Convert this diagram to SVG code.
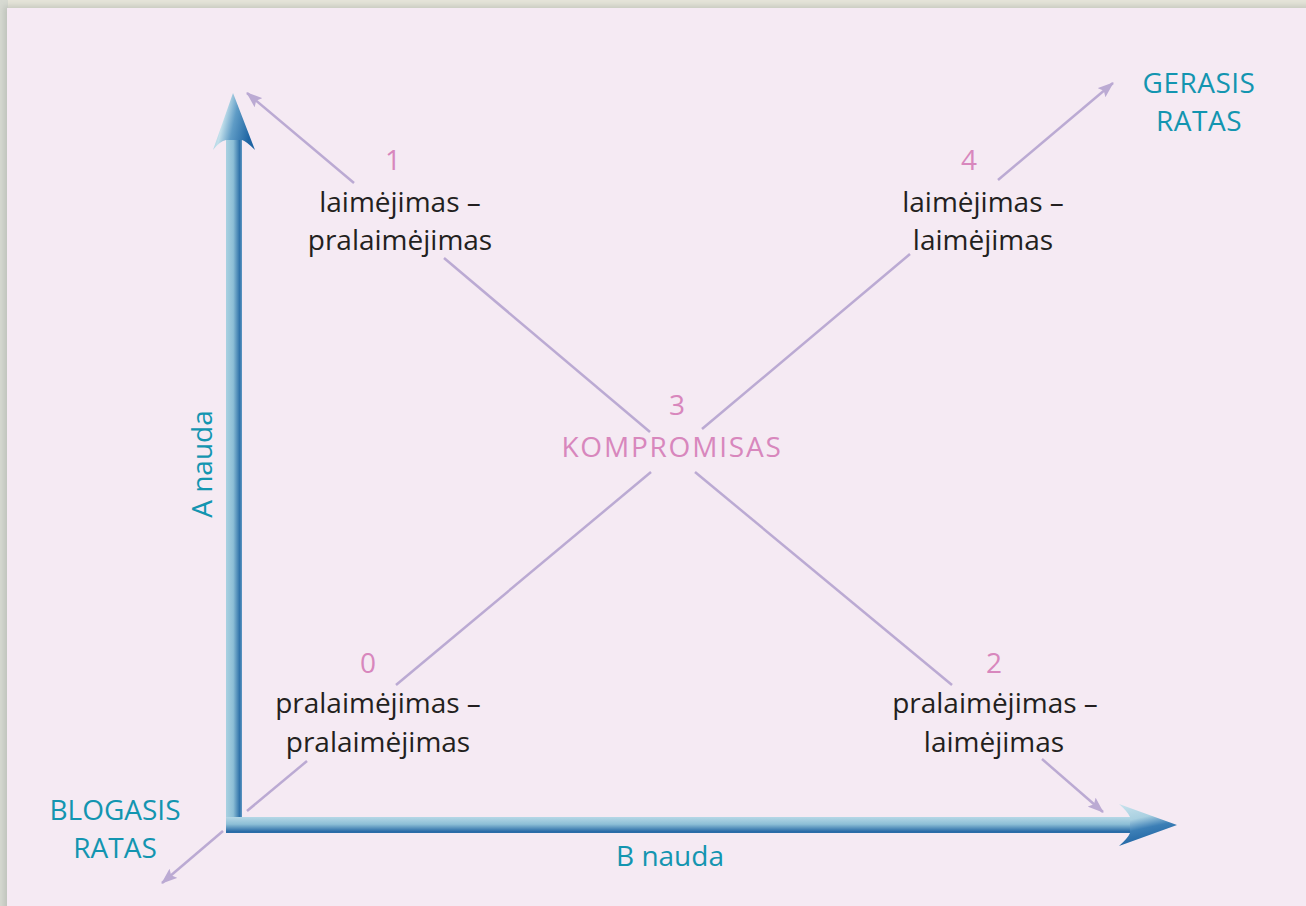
<svg xmlns="http://www.w3.org/2000/svg" width="1306" height="906" viewBox="0 0 1306 906">
<style>
.t{font-family:"Open Sans","Noto Sans","Liberation Sans",sans-serif;font-size:28px;text-anchor:middle}
.k{fill:#231f20}
.p{fill:#d887bd}
.c{fill:#1395b0}
.ln{stroke:#bbaad3;stroke-width:2.5;fill:none;stroke-linecap:butt}
.ar{stroke:#bbaad3;stroke-width:2.5;fill:none;marker-end:url(#ah)}
</style>
<defs>
<marker id="ah" markerUnits="userSpaceOnUse" viewBox="0 0 16 12" markerWidth="16" markerHeight="12" refX="15" refY="6" orient="auto">
<path d="M0,0 L16,6 L0,12 L3,6 Z" fill="#bbaad3"/>
</marker>
<linearGradient id="gv" x1="0" y1="0" x2="1" y2="0">
<stop offset="0" stop-color="#a9d1e1"/>
<stop offset="0.45" stop-color="#8dbfd6"/>
<stop offset="0.85" stop-color="#2f72a9"/>
<stop offset="1" stop-color="#5f97c2"/>
</linearGradient>
<linearGradient id="gh" x1="0" y1="0" x2="0" y2="1">
<stop offset="0" stop-color="#b6d8e6"/>
<stop offset="0.45" stop-color="#8dbfd6"/>
<stop offset="0.9" stop-color="#2a6ca7"/>
<stop offset="1" stop-color="#2a6ca7"/>
</linearGradient>
<linearGradient id="gvh" x1="0" y1="0" x2="1" y2="0.3">
<stop offset="0" stop-color="#7fb6d0"/>
<stop offset="0.35" stop-color="#c3e0eb"/>
<stop offset="0.6" stop-color="#5f9cc6"/>
<stop offset="1" stop-color="#1f65a3"/>
</linearGradient>
<linearGradient id="ghh" x1="0" y1="0" x2="0.3" y2="1">
<stop offset="0" stop-color="#c9e3ed"/>
<stop offset="0.4" stop-color="#a9d0e1"/>
<stop offset="0.65" stop-color="#3c7fb6"/>
<stop offset="1" stop-color="#1f64a3"/>
</linearGradient>
<filter id="sh" x="-5%" y="-5%" width="110%" height="110%">
<feGaussianBlur stdDeviation="3"/>
</filter>
</defs>
<g id="background">
<rect x="0" y="0" width="1306" height="906" fill="#e6e5d9"/>
<rect x="0" y="0" width="8" height="906" fill="#d7dad2"/>
<rect x="4" y="6" width="1310" height="910" fill="#aab0a8" opacity="0.6" filter="url(#sh)"/>
<rect x="7" y="8" width="1299" height="898" fill="#f5eaf3"/>
</g>
<g id="axes">
<rect x="226" y="138" width="16" height="695" fill="url(#gv)"/>
<rect x="226" y="817" width="906" height="16" fill="url(#gh)"/>
<path d="M233,93 L255,150 Q246,141 242,140 L226,140 Q220,141 213,150 Z" fill="url(#gvh)"/>
<path d="M1177,825 L1119,846 Q1128,838 1130,833 L1130,817 Q1128,812 1119,804 Z" fill="url(#ghh)"/>
</g>
<g id="connectors">
<line class="ar" x1="354" y1="183" x2="247" y2="93"/>
<line class="ln" x1="444" y1="258" x2="650" y2="432"/>
<line class="ln" x1="695" y1="472" x2="952" y2="685"/>
<line class="ar" x1="1042" y1="759" x2="1103" y2="812"/>
<line class="ar" x1="223" y1="831" x2="162" y2="883"/>
<line class="ln" x1="247" y1="811" x2="307" y2="761"/>
<line class="ln" x1="396" y1="685" x2="651" y2="472"/>
<line class="ln" x1="702" y1="429" x2="910" y2="254"/>
<line class="ar" x1="998" y1="180" x2="1113" y2="83"/>
</g>
<g id="node1">
<text class="t p" x="393" y="170">1</text>
<text class="t k" x="400" y="212">laimėjimas –</text>
<text class="t k" x="400" y="250">pralaimėjimas</text>
</g>
<g id="node4">
<text class="t p" x="969" y="170">4</text>
<text class="t k" x="983" y="212">laimėjimas –</text>
<text class="t k" x="983" y="250">laimėjimas</text>
</g>
<g id="node0">
<text class="t p" x="368" y="673">0</text>
<text class="t k" x="378" y="713">pralaimėjimas –</text>
<text class="t k" x="378" y="752">pralaimėjimas</text>
</g>
<g id="node2">
<text class="t p" x="994" y="673">2</text>
<text class="t k" x="995" y="713">pralaimėjimas –</text>
<text class="t k" x="994" y="752">laimėjimas</text>
</g>
<g id="node3">
<text class="t p" x="677" y="415">3</text>
<text class="t p" x="672" y="457" letter-spacing="1.8">KOMPROMISAS</text>
</g>
<g id="gerasis">
<text class="t c" x="1199" y="93" letter-spacing="0.5">GERASIS</text>
<text class="t c" x="1199" y="131" letter-spacing="0.5">RATAS</text>
</g>
<g id="blogasis">
<text class="t c" x="115" y="820">BLOGASIS</text>
<text class="t c" x="115" y="858">RATAS</text>
</g>
<g id="axis-labels">
<text class="t c" transform="translate(212,464) rotate(-90)">A nauda</text>
<text class="t c" x="670" y="866">B nauda</text>
</g>
</svg>
